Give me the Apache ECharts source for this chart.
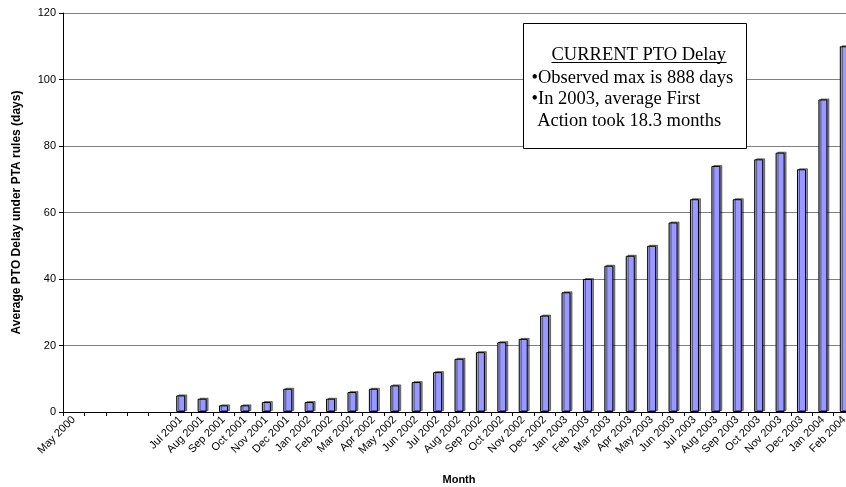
<!DOCTYPE html>
<html>
<head>
<meta charset="utf-8">
<script src="https://cdn.jsdelivr.net/npm/echarts@6/dist/echarts.min.js"></script>
<style>html,body{margin:0;padding:0;background:#fff;overflow:hidden;}#c{width:846px;height:487px;}</style>
</head>
<body>
<div id="c"></div>
<script>
const categories = ['May 2000','','','','',
  'Jul 2001','Aug 2001','Sep 2001','Oct 2001','Nov 2001','Dec 2001',
  'Jan 2002','Feb 2002','Mar 2002','Apr 2002','May 2002','Jun 2002','Jul 2002','Aug 2002','Sep 2002','Oct 2002','Nov 2002','Dec 2002',
  'Jan 2003','Feb 2003','Mar 2003','Apr 2003','May 2003','Jun 2003','Jul 2003','Aug 2003','Sep 2003','Oct 2003','Nov 2003','Dec 2003',
  'Jan 2004','Feb 2004'];
const delayValues = [null,null,null,null,null,
  5,4,2,2,3,7,
  3,4,6,7,8,9,12,16,18,21,22,29,
  36,40,44,47,50,57,64,74,64,76,78,73,
  94,110];
const yTicks = {min:0, max:120, interval:20};
const noteTitle = 'CURRENT PTO Delay';
const noteLines = ['\u2022Observed max is 888 days', '\u2022In 2003, average First', ' Action took 18.3 months'];

const noteFont = '18.5px "Liberation Serif"';
const chart = echarts.init(document.getElementById('c'), null, {renderer:'canvas'});
chart.setOption({
  animation:false,
  backgroundColor:'#fff',
  grid:{left:63, width:792, top:13, bottom:75, containLabel:false, outerBoundsMode:'none'},
  xAxis:{
    type:'category', data:categories, boundaryGap:true,
    name:'Month', nameLocation:'middle', nameGap:62,
    nameTextStyle:{fontFamily:'Liberation Sans', fontSize:11, fontWeight:'bold', color:'#000'},
    axisLine:{lineStyle:{color:'#000', width:1}},
    axisTick:{show:true, length:4, alignWithLabel:false, interval:0, lineStyle:{color:'#000'}},
    axisLabel:{interval:0, rotate:45, fontFamily:'Liberation Sans', fontSize:11, color:'#000', margin:6},
    splitLine:{show:false}
  },
  yAxis:{
    type:'value', min:yTicks.min, max:yTicks.max, interval:yTicks.interval,
    name:'Average PTO Delay under PTA rules (days)', nameLocation:'middle', nameGap:40, nameRotate:90,
    nameTextStyle:{fontFamily:'Liberation Sans', fontSize:12, fontWeight:'bold', color:'#000'},
    axisLine:{show:true, lineStyle:{color:'#000', width:1}},
    axisTick:{show:true, length:4, lineStyle:{color:'#000'}},
    axisLabel:{fontFamily:'Liberation Sans', fontSize:11, color:'#000', margin:7},
    splitLine:{show:true, lineStyle:{color:'#808080', width:1}}
  },
  series:[{
    type:'bar', data:delayValues, barWidth:9,
    itemStyle:{color:'#9999FF', borderColor:'#000', borderWidth:1,
      shadowColor:'rgba(0,0,0,0.45)', shadowOffsetX:2, shadowOffsetY:-1, shadowBlur:0}
  }],
  graphic:[
    {type:'rect', left:523, top:23, shape:{width:223, height:125}, style:{fill:'#fff', stroke:'#000', lineWidth:1}, z:100},
    {type:'text', left:551.5, top:46, style:{text:noteTitle, font:noteFont, fill:'#000'}, z:101},
    {type:'line', shape:{x1:551.5, y1:62.5, x2:726.5, y2:62.5}, style:{stroke:'#000', lineWidth:1}, z:101},
    {type:'text', left:531.5, top:68.5, style:{text:noteLines[0], font:noteFont, fill:'#000'}, z:101},
    {type:'text', left:531.5, top:89.5, style:{text:noteLines[1], font:noteFont, fill:'#000'}, z:101},
    {type:'text', left:532.5, top:112, style:{text:noteLines[2], font:noteFont, fill:'#000'}, z:101}
  ]
});
</script>
</body>
</html>
